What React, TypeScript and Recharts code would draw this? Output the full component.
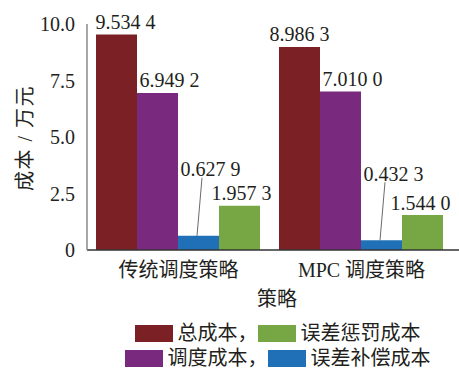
import React from 'react';
import { BarChart, Bar, XAxis, YAxis, Legend, LabelList } from 'recharts';

// Strategy categories and cost components (万元)
const categories = ['传统调度策略', 'MPC 调度策略'];
const totalCost = [9.5344, 8.9863];
const dispatchCost = [6.9492, 7.01];
const compensationCost = [0.6279, 0.4323];
const penaltyCost = [1.9573, 1.544];
const yTicks = [0, 2.5, 5, 7.5, 10];

const data = categories.map((name, i) => ({
  name,
  total: totalCost[i],
  dispatch: dispatchCost[i],
  compensation: compensationCost[i],
  penalty: penaltyCost[i],
}));

const SERIF = '"Liberation Serif", "Times New Roman", "Noto Sans CJK SC", serif';
const TEXT = '#231f20';
const FONT = 20;

const series = [
  { key: 'total', name: '总成本', color: '#7b2025', labelDx: [9, 0], leader: false },
  { key: 'dispatch', name: '调度成本', color: '#792a7e', labelDx: [12, 12], leader: false },
  { key: 'compensation', name: '误差补偿成本', color: '#1f70b6', labelDx: [12, 12], leader: true },
  { key: 'penalty', name: '误差惩罚成本', color: '#77a745', labelDx: [2, -2], leader: false },
];

const formatValue = (v: number) => {
  const s = v.toFixed(4);
  return s.slice(0, -1) + ' ' + s.slice(-1);
};

const makeLabel = (labelDx: number[], leader: boolean) => (props: any) => {
  const { x, y, width, value, index } = props;
  const cx = x + width / 2 + (labelDx[index] ?? 0);
  if (leader) {
    const ly = y - 66;
    return (
      <g>
        <line x1={x + 24} y1={ly + 8} x2={x + 19} y2={y} stroke="#444" strokeWidth={0.8} />
        <text x={cx} y={ly + 6.6} textAnchor="middle" fontFamily={SERIF} fontSize={FONT} fill={TEXT}>
          {formatValue(value)}
        </text>
      </g>
    );
  }
  return (
    <text x={cx} y={y - 5.5} textAnchor="middle" fontFamily={SERIF} fontSize={FONT} fill={TEXT}>
      {formatValue(value)}
    </text>
  );
};

const legendRows = [
  [series[0], series[3]],
  [series[1], series[2]],
];

const renderLegend = () => (
  <div
    style={{
      width: 459,
      height: 51,
      paddingLeft: 96,
      paddingTop: 1,
      boxSizing: 'border-box',
      fontFamily: SERIF,
      fontSize: FONT,
      color: TEXT,
    }}
  >
    {legendRows.map((row, r) => (
      <div
        key={r}
        style={{ display: 'flex', justifyContent: 'center', alignItems: 'center', height: 25, lineHeight: '25px' }}
      >
        {row.map((s, i) => (
          <div key={s.key} style={{ display: 'flex', alignItems: 'center' }}>
            <span
              style={{ display: 'inline-block', width: 38, height: 17, background: s.color, marginRight: 5 }}
            />
            <span style={{ whiteSpace: 'nowrap' }}>{s.name + (i === 0 ? '，' : '')}</span>
          </div>
        ))}
      </div>
    ))}
  </div>
);

export default function App() {
  return (
    <div style={{ position: 'absolute', left: 0, top: 0, width: 459, height: 371, background: '#fff' }}>
      <BarChart
        width={459}
        height={371}
        data={data}
        margin={{ top: 24, right: 0, left: 0, bottom: 0 }}
        barCategoryGap={9}
        barGap={0}
      >
        <XAxis
          dataKey="name"
          height={70}
          padding={{ left: 0, right: 6 }}
          tickLine={false}
          tickSize={0}
          tickMargin={13}
          axisLine={{ stroke: '#333', strokeWidth: 1.5 }}
          tick={{ fontFamily: SERIF, fontSize: FONT, fill: TEXT }}
          label={{
            content: (p: any) => {
              const vb = p.viewBox;
              return (
                <text
                  x={vb.x + vb.width / 2 + 4}
                  y={vb.y + 56}
                  textAnchor="middle"
                  fontFamily={SERIF}
                  fontSize={FONT}
                  fill={TEXT}
                >
                  策略
                </text>
              );
            },
          }}
        />
        <YAxis
          width={87}
          domain={[0, 10]}
          ticks={yTicks}
          interval={0}
          tickFormatter={(v: number) => (v === 0 ? '0' : v.toFixed(1))}
          tickLine={false}
          tickSize={0}
          tickMargin={12}
          axisLine={{ stroke: '#8a8a8a', strokeWidth: 1.5 }}
          tick={{ fontFamily: SERIF, fontSize: FONT, fill: TEXT }}
          label={{
            content: (p: any) => {
              const vb = p.viewBox;
              const cx = vb.x + 25;
              const cy = vb.y + vb.height / 2 + 1;
              return (
                <text
                  x={cx}
                  y={cy}
                  transform={`rotate(-90, ${cx}, ${cy})`}
                  textAnchor="middle"
                  dominantBaseline="central"
                  fontFamily={SERIF}
                  fontSize={FONT}
                  letterSpacing={1.5}
                  fill={TEXT}
                >
                  成本 / 万元
                </text>
              );
            },
          }}
        />
        <Legend verticalAlign="bottom" align="left" content={renderLegend} wrapperStyle={{ left: 0 }} />
        {series.map((s) => (
          <Bar key={s.key} dataKey={s.key} name={s.name} fill={s.color} isAnimationActive={false}>
            <LabelList dataKey={s.key} content={makeLabel(s.labelDx, s.leader)} />
          </Bar>
        ))}
      </BarChart>
    </div>
  );
}
